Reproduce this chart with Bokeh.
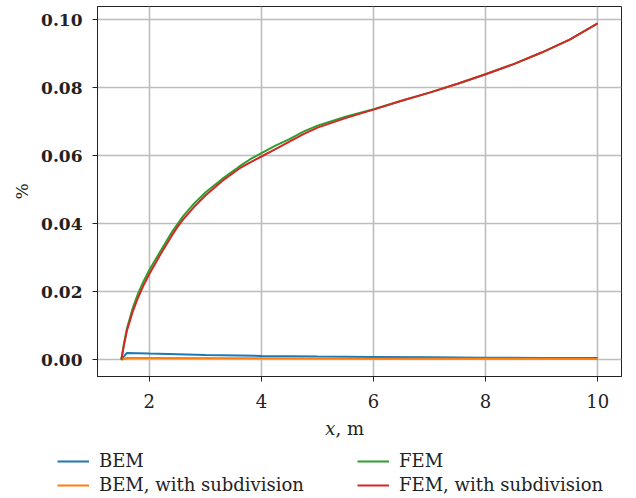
from bokeh.plotting import figure
from bokeh.models import Range1d, FixedTicker, NumeralTickFormatter, Legend, LegendItem, Label
from bokeh.embed import file_html
from bokeh.resources import INLINE

# ---- data ----
x_bem = [1.5, 1.6, 2.0, 3.0, 4.0, 5.0, 6.0, 7.0, 8.0, 9.0, 10.0]
y_bem = [0.0, 0.0020, 0.0018, 0.0014, 0.0011, 0.0009, 0.0008, 0.0007, 0.0006, 0.0005, 0.0005]

x_bem_sub = [1.5, 1.6, 2.0, 4.0, 6.0, 8.0, 10.0]
y_bem_sub = [0.0, 0.0005, 0.0005, 0.0004, 0.0003, 0.0003, 0.0002]

x_fem = [1.5, 1.55, 1.6, 1.7, 1.8, 1.9, 2.0, 2.2, 2.4, 2.6, 2.8, 3.0, 3.3, 3.6, 3.8, 4.0,
         4.25, 4.5, 4.75, 5.0, 5.5, 6.0, 6.5, 7.0, 7.5, 8.0, 8.5, 9.0, 9.5, 10.0]
y_fem = [0.0, 0.0050, 0.0092, 0.0150, 0.0195, 0.0232, 0.0264, 0.0320, 0.0375, 0.0422, 0.0460,
         0.0492, 0.0532, 0.0568, 0.0590, 0.0608, 0.0630, 0.0649, 0.0671, 0.0689, 0.0715,
         0.0737, 0.0762, 0.0786, 0.0812, 0.0840, 0.0870, 0.0904, 0.0942, 0.0990]

x_fem_sub = [1.5, 1.55, 1.6, 1.7, 1.8, 1.9, 2.0, 2.2, 2.4, 2.5, 2.6, 2.8, 3.0, 3.3, 3.6, 3.8,
             4.0, 4.25, 4.5, 4.75, 5.0, 5.5, 6.0, 6.5, 7.0, 7.5, 8.0, 8.5, 9.0, 9.5, 10.0]
y_fem_sub = [0.0, 0.0045, 0.0085, 0.0140, 0.0183, 0.0220, 0.0252, 0.0310, 0.0365, 0.0390,
             0.0412, 0.0450, 0.0483, 0.0526, 0.0562, 0.0581, 0.0598, 0.0620, 0.0642, 0.0664,
             0.0683, 0.0711, 0.0736, 0.0762, 0.0786, 0.0812, 0.0840, 0.0870, 0.0904, 0.0942,
             0.0990]

x_ticks = [2, 4, 6, 8, 10]
y_ticks = [0.0, 0.02, 0.04, 0.06, 0.08, 0.10]

labels = ["BEM", "BEM, with subdivision", "FEM", "FEM, with subdivision"]
colors = ["#1f77b4", "#ff7f0e", "#2ca02c", "#d62728"]

FONT = "DejaVu Serif"
FS = "17px"
FS_LEG = "18px"
INK = "#222222"

p = figure(width=630, height=412,
           x_range=Range1d(1.075, 10.425), y_range=Range1d(-0.00495, 0.10395),
           output_backend="svg", toolbar_location=None,
           min_border_left=97, min_border_right=9, min_border_top=6, min_border_bottom=36)

p.background_fill_color = "white"
p.border_fill_color = "white"
p.outline_line_color = INK
p.outline_line_width = 1

p.xaxis.ticker = FixedTicker(ticks=x_ticks)
p.yaxis.ticker = FixedTicker(ticks=y_ticks)
p.yaxis.formatter = NumeralTickFormatter(format="0.00")

for ax in (p.xaxis[0], p.yaxis[0]):
    ax.axis_line_color = INK
    ax.major_tick_line_color = INK
    ax.major_tick_out = 5
    ax.major_tick_in = 0
    ax.minor_tick_line_color = None
    ax.major_label_text_font = FONT
    ax.major_label_text_font_size = FS
    ax.major_label_text_color = INK
    ax.axis_label_text_font = FONT
    ax.axis_label_text_font_size = FS
    ax.axis_label_text_font_style = "normal"
    ax.axis_label_text_color = INK

p.xaxis.major_label_text_font_size = "18px"
p.xaxis.major_label_standoff = 12
p.yaxis.major_label_text_font_style = "bold"
p.yaxis.major_label_standoff = 10
p.yaxis.axis_label = "%"
p.yaxis.axis_label_standoff = 6

p.xgrid.ticker = FixedTicker(ticks=x_ticks)
p.ygrid.ticker = FixedTicker(ticks=y_ticks)
p.grid.grid_line_color = "#bdbdbd"
p.grid.grid_line_width = 1.6

xs = [x_bem, x_bem_sub, x_fem, x_fem_sub]
ys = [y_bem, y_bem_sub, y_fem, y_fem_sub]
for xv, yv, c in zip(xs, ys, colors):
    p.line(xv, yv, line_color=c, line_width=2)

# ---- strip below the plot (separate root): x-axis label and legend ----
p2 = figure(width=630, height=86, x_range=Range1d(0, 1), y_range=Range1d(1, 2),
            output_backend="svg", toolbar_location=None,
            x_axis_location=None, y_axis_location=None,
            min_border_left=0, min_border_right=0, min_border_top=0, min_border_bottom=0)
p2.grid.visible = False
p2.outline_line_color = None
p2.background_fill_color = "white"
p2.border_fill_color = "white"

# legend keys: the same series drawn in this strip, outside its visible range
keys = [p2.line(xv, yv, line_color=c, line_width=2) for xv, yv, c in zip(xs, ys, colors)]

common = dict(orientation="vertical", border_line_color=None, background_fill_alpha=0,
              padding=0, margin=0, spacing=3, glyph_width=32, glyph_height=20,
              label_height=20, label_standoff=10, label_text_font=FONT,
              label_text_font_size=FS_LEG, label_text_color=INK)
leg1 = Legend(items=[LegendItem(label=labels[0], renderers=[keys[0]]),
                     LegendItem(label=labels[1], renderers=[keys[1]])],
              location=(57, 3), **common)
leg2 = Legend(items=[LegendItem(label=labels[2], renderers=[keys[2]]),
                     LegendItem(label=labels[3], renderers=[keys[3]])],
              location=(357, 3), **common)
p2.add_layout(leg1)
p2.add_layout(leg2)

p2.add_layout(Label(x=335, y=70, x_units="screen", y_units="screen", text="x",
                    text_font=FONT, text_font_size=FS_LEG, text_font_style="italic",
                    text_align="right", text_baseline="middle", text_color=INK))
p2.add_layout(Label(x=335, y=70, x_units="screen", y_units="screen", text=", m",
                    text_font=FONT, text_font_size=FS_LEG, text_align="left",
                    text_baseline="middle", text_color=INK))

open("out.html", "w").write(file_html([p, p2], INLINE))
